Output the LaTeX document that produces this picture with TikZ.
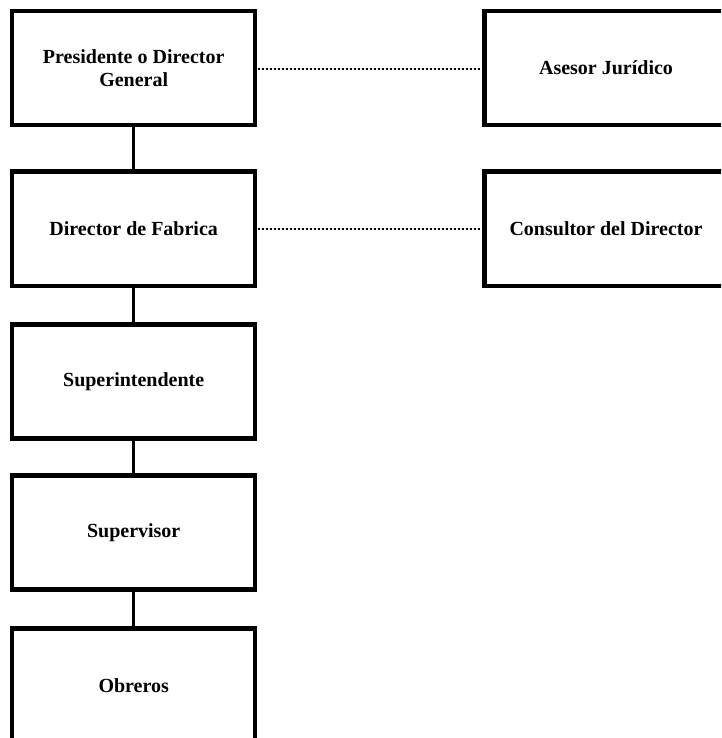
\documentclass[tikz,border=0pt]{standalone}
\usepackage{fontspec}
\setmainfont{Liberation Serif}
\begin{document}
\begin{tikzpicture}[x=1pt,y=-1pt,
  orgbox/.style={draw=black, line width=4.5pt, fill=white, rectangle,
    minimum width=243pt, minimum height=114pt, inner sep=0pt, outer sep=0pt,
    align=center, font=\bfseries\fontsize{20}{23}\selectfont},
  solidlink/.style={draw=black, line width=2.5pt},
  dottedlink/.style={draw=black, line width=2pt, dash pattern=on 2pt off 2pt}]
  \useasboundingbox (0,0) rectangle (721,738);
  \clip (0,0) rectangle (721,738);

  % main line of command
  \node[orgbox] (pres) at (133.7,68) {Presidente o Director\\General};
  \node[orgbox] (dirf) at (133.7,228.75) {Director de Fabrica};
  \node[orgbox] (sup)  at (133.7,381.25) {Superintendente};
  \node[orgbox] (supv) at (133.7,532.5) {Supervisor};
  \node[orgbox] (obr)  at (133.7,685.5) {Obreros};

  % staff positions
  \node[orgbox] (ases) at (606,68) {Asesor Jur\'idico};
  \node[orgbox] (cons) at (606,228.75) {Consultor del Director};

  % connectors
  \draw[solidlink] (pres.south) -- (dirf.north);
  \draw[solidlink] (dirf.south) -- (sup.north);
  \draw[solidlink] (sup.south) -- (supv.north);
  \draw[solidlink] (supv.south) -- (obr.north);

  \draw[dottedlink] (pres.east) ++(2.5,1.5) coordinate (pa) -- (pa -| ases.west);
  \draw[dottedlink] (dirf.east) ++(2.5,0.5) coordinate (da) -- (da -| cons.west);
\end{tikzpicture}
\end{document}
